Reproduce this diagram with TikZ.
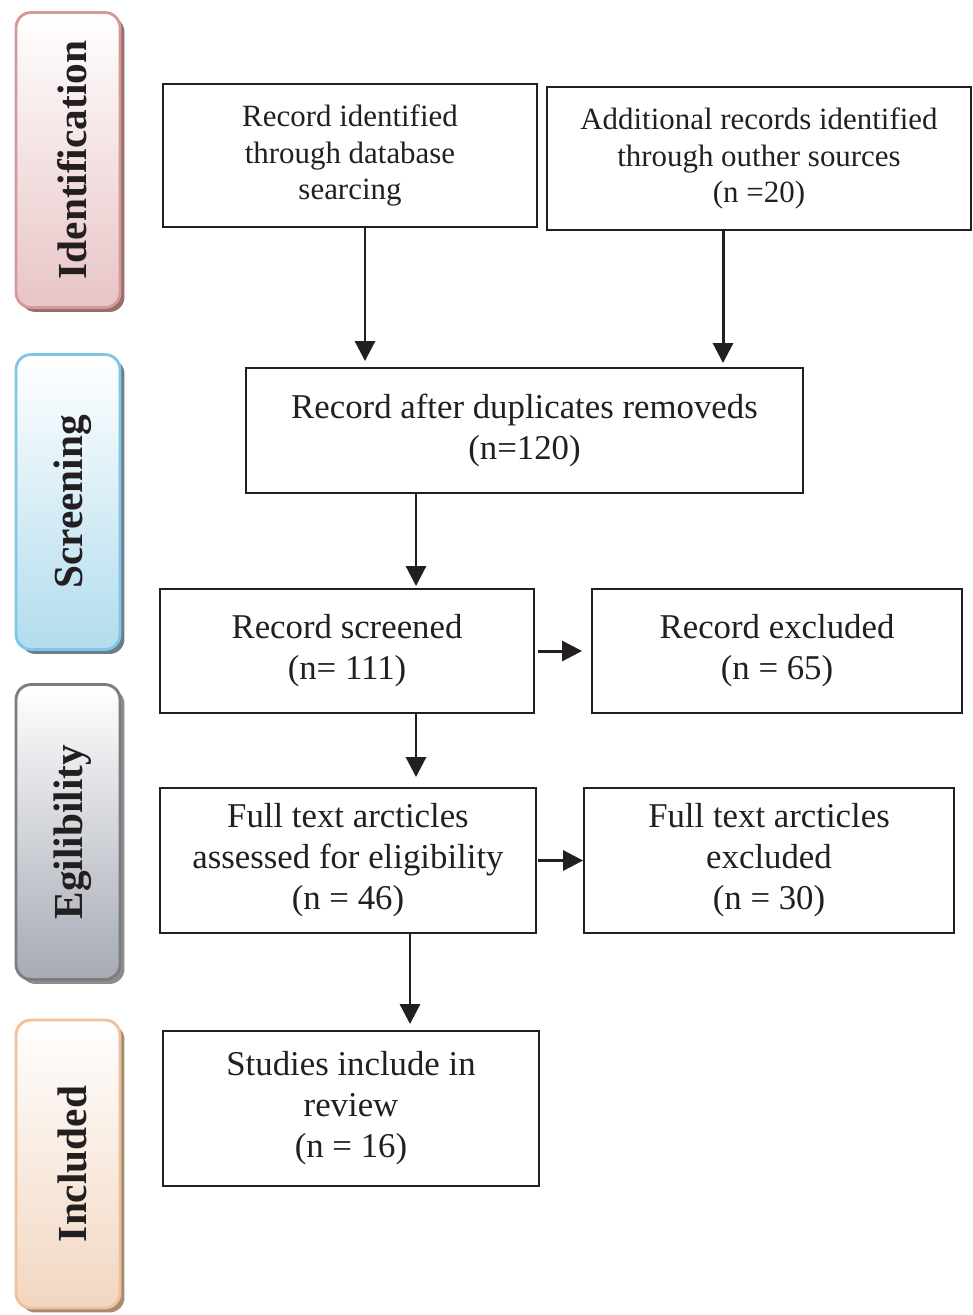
\documentclass[tikz,border=0pt]{standalone}
\usepackage{fontspec}
\setmainfont{Liberation Serif}
\usetikzlibrary{arrows.meta,shadows}
\definecolor{idline}{RGB}{214,152,152}
\definecolor{idfill}{RGB}{232,196,198}
\definecolor{idshadow}{RGB}{150,112,110}
\definecolor{scrline}{RGB}{125,198,230}
\definecolor{scrfill}{RGB}{178,220,238}
\definecolor{scrshadow}{RGB}{110,125,135}
\definecolor{egline}{RGB}{125,125,128}
\definecolor{egfill}{RGB}{165,170,180}
\definecolor{egshadow}{RGB}{140,140,142}
\definecolor{incline}{RGB}{238,192,155}
\definecolor{incfill}{RGB}{242,214,192}
\definecolor{incshadow}{RGB}{165,140,115}
\definecolor{ink}{RGB}{35,31,32}
\newcommand{\phasetext}[1]{\rotatebox{90}{\raisebox{-2.5pt}[\height][\depth]{#1}}}
\tikzset{
  phase/.style 2 args={rounded corners=0.3cm, line width=1.6pt, draw=#1, top color=white,
    bottom color=#2, minimum width=2.08cm, minimum height=5.9cm, inner sep=0pt,
    font=\fontsize{23.5}{28}\selectfont\bfseries, text=ink},
  box/.style={draw=ink, line width=1.1pt, align=center, inner sep=0pt, text=ink},
  topbox/.style={box, font=\fontsize{17.6}{21}\selectfont},
  lowbox/.style={box, font=\fontsize{19.8}{23.3}\selectfont},
  arr/.style={draw=ink, line width=1.7pt, -{Triangle[length=0.4cm, width=0.4cm]}}
}
\begin{document}
\begin{tikzpicture}[x=0.02cm, y=-0.02cm]
  \useasboundingbox (0,0) rectangle (973,1315);
  % phases on the left
  \node[phase={idline}{idfill}, drop shadow={shadow xshift=0.09cm, shadow yshift=-0.09cm, fill=idshadow, opacity=1}]
    (ident) at (68,160) {\phasetext{Identification}};
  \node[phase={scrline}{scrfill}, drop shadow={shadow xshift=0.09cm, shadow yshift=-0.09cm, fill=scrshadow, opacity=1}]
    (screen) at (68,502) {\phasetext{Screening}};
  \node[phase={egline}{egfill}, drop shadow={shadow xshift=0.09cm, shadow yshift=-0.09cm, fill=egshadow, opacity=1}]
    (elig) at (68,832) {\phasetext{Egilibility}};
  \node[phase={incline}{incfill}, minimum height=5.76cm, drop shadow={shadow xshift=0.09cm, shadow yshift=-0.09cm, fill=incshadow, opacity=1}]
    (incl) at (68,1164) {\phasetext{Included}};
  % boxes
  \node[topbox, minimum width=7.48cm, minimum height=2.86cm] (db) at (350,155.5)
    {Record identified\\through database\\searcing};
  \node[topbox, minimum width=8.48cm, minimum height=2.86cm] (other) at (759,158.5)
    {Additional records identified\\through outher sources\\(n =20)};
  \node[lowbox, minimum width=11.14cm, minimum height=2.5cm] (dup) at (524.5,430.5)
    {Record after duplicates removeds\\(n=120)};
  \node[lowbox, minimum width=7.48cm, minimum height=2.48cm] (scr) at (347,651)
    {Record screened\\(n= 111)};
  \node[lowbox, minimum width=7.40cm, minimum height=2.48cm] (exc) at (777,651)
    {Record excluded\\(n = 65)};
  \node[lowbox, minimum width=7.52cm, minimum height=2.9cm] (full) at (348,860.5)
    {Full text arcticles\\assessed for eligibility\\(n = 46)};
  \node[lowbox, minimum width=7.40cm, minimum height=2.9cm] (fexc) at (769,860.5)
    {Full text arcticles\\excluded\\(n = 30)};
  \node[lowbox, minimum width=7.52cm, minimum height=3.1cm] (incbox) at (351,1108.5)
    {Studies include in\\review\\(n = 16)};
  % connectors
  \coordinate (colA) at (365,0);
  \coordinate (colB) at (723,0);
  \coordinate (spine) at (416,0);
  \coordinate (spineB) at (410,0);
  \draw[arr, shorten >=0.12cm] (db.south -| colA) -- (dup.north -| colA);
  \draw[arr, shorten >=0.08cm] (other.south -| colB) -- (dup.north -| colB);
  \draw[arr, shorten >=0.04cm] (dup.south -| spine) -- (scr.north -| spine);
  \draw[arr, shorten <=0.06cm, shorten >=0.18cm] (scr.east) -- (exc.west);
  \draw[arr, shorten >=0.2cm] (scr.south -| spine) -- (full.north -| spine);
  \draw[arr, shorten <=0.02cm] (full.east) -- (fexc.west);
  \draw[arr, shorten >=0.12cm] (full.south -| spineB) -- (incbox.north -| spineB);
\end{tikzpicture}
\end{document}
